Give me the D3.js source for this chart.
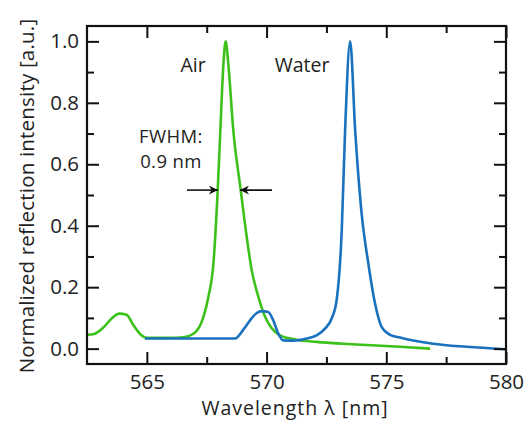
<!DOCTYPE html>
<html><head><meta charset="utf-8">
<script src="https://cdn.jsdelivr.net/npm/d3@7"></script>
<style>body{margin:0;background:#fff}text{font-family:"Open Sans",sans-serif;fill:#222}</style>
</head><body><svg id="c" width="527" height="421"></svg>
<script>
const airWavelength = [562.5,562.8,563.2,563.55,563.85,564.15,564.45,564.75,565.0,566.0,566.5,567.0,567.35,567.57,567.78,567.96,568.13,568.2,568.29,568.4,568.61,568.92,569.17,569.38,569.66,569.9,570.2,570.56,571.26,572.09,573.19,574.18,575.57,576.83];
const airIntensity  = [0.045,0.048,0.07,0.1,0.114,0.11,0.075,0.045,0.035,0.035,0.037,0.052,0.1,0.168,0.277,0.516,0.82,0.93,1.0,0.928,0.711,0.516,0.364,0.255,0.168,0.11,0.068,0.043,0.029,0.022,0.016,0.012,0.006,0.0];
const waterWavelength = [564.92,568.68,569.03,569.31,569.59,569.8,570.07,570.28,570.49,570.7,571.12,571.68,572.09,572.44,572.72,572.93,573.14,573.28,573.49,573.7,573.97,574.25,574.53,574.81,575.16,575.57,576.95,578.36,579.96];
const waterIntensity  = [0.033,0.033,0.062,0.092,0.116,0.122,0.119,0.092,0.049,0.027,0.026,0.033,0.043,0.065,0.098,0.16,0.385,0.711,1.0,0.711,0.44,0.277,0.147,0.07,0.045,0.036,0.016,0.006,-0.002];
const xMajorTicks = [565,570,575,580];
const xMinorTicks = [567.5,572.5,577.5];
const yMajorTicks = [0,0.2,0.4,0.6,0.8,1.0];
const yMinorTicks = [0.1,0.3,0.5,0.7,0.9];
const fwhmEdges = [567.97,568.89];
const fwhmLevel = 0.516;

const svg = d3.select("#c");
const L=87, R=506, T=26, B=364;
const x = d3.scaleLinear().domain([562.5,580]).range([L,R]);
const y = d3.scaleLinear().domain([-0.05,1.05]).range([B,T]);
const line = d3.line().x(d=>x(d[0])).y(d=>y(d[1])).curve(d3.curveMonotoneX);

svg.append("clipPath").attr("id","pc").append("rect").attr("x",L).attr("y",T).attr("width",R-L).attr("height",B-T);
const g = svg.append("g").attr("clip-path","url(#pc)");
g.append("path").datum(d3.zip(airWavelength,airIntensity)).attr("d",line).attr("fill","none").attr("stroke","#3cc01a").attr("stroke-width",2.6);
g.append("path").datum(d3.zip(waterWavelength,waterIntensity)).attr("d",line).attr("fill","none").attr("stroke","#1a72bf").attr("stroke-width",2.6);

function axes(){
  const fmt = d3.format(".1f");
  const bottom = svg.append("g").attr("transform",`translate(0,${B})`)
    .call(d3.axisBottom(x).tickValues(xMajorTicks).tickSizeInner(-12).tickSizeOuter(0).tickPadding(10).tickFormat(d3.format("d")));
  const bottomMinor = svg.append("g").attr("transform",`translate(0,${B})`)
    .call(d3.axisBottom(x).tickValues(xMinorTicks).tickSizeInner(-7).tickSizeOuter(0).tickFormat(""));
  const top = svg.append("g").attr("transform",`translate(0,${T})`)
    .call(d3.axisTop(x).tickValues(xMajorTicks).tickSizeInner(-12).tickSizeOuter(0).tickFormat(""));
  const topMinor = svg.append("g").attr("transform",`translate(0,${T})`)
    .call(d3.axisTop(x).tickValues(xMinorTicks).tickSizeInner(-7).tickSizeOuter(0).tickFormat(""));
  const left = svg.append("g").attr("transform",`translate(${L},0)`)
    .call(d3.axisLeft(y).tickValues(yMajorTicks).tickSizeInner(-12).tickSizeOuter(0).tickPadding(8).tickFormat(fmt));
  const leftMinor = svg.append("g").attr("transform",`translate(${L},0)`)
    .call(d3.axisLeft(y).tickValues(yMinorTicks).tickSizeInner(-7).tickSizeOuter(0).tickFormat(""));
  const right = svg.append("g").attr("transform",`translate(${R},0)`)
    .call(d3.axisRight(y).tickValues(yMajorTicks).tickSizeInner(-12).tickSizeOuter(0).tickFormat(""));
  const rightMinor = svg.append("g").attr("transform",`translate(${R},0)`)
    .call(d3.axisRight(y).tickValues(yMinorTicks).tickSizeInner(-7).tickSizeOuter(0).tickFormat(""));
  [bottom,bottomMinor,top,topMinor,left,leftMinor,right,rightMinor].forEach(a=>{
    a.select(".domain").remove();
    a.selectAll("line").attr("stroke","#111").attr("stroke-width",2);
    a.selectAll("text").attr("font-family","Open Sans, sans-serif").attr("font-size",20.5).attr("fill","#222");
  });
  svg.append("rect").attr("x",L).attr("y",T).attr("width",R-L).attr("height",B-T)
    .attr("fill","none").attr("stroke","#111").attr("stroke-width",2.2);
}
axes();

svg.append("text").attr("x",295).attr("y",414.5).attr("text-anchor","middle").attr("font-size",19.5).attr("letter-spacing",1.0).text("Wavelength λ [nm]");
svg.append("text").attr("transform",`translate(34,${196}) rotate(-90)`).attr("text-anchor","middle").attr("font-size",20.5).attr("letter-spacing",0.2).text("Normalized reflection intensity [a.u.]");

svg.append("text").attr("x",193).attr("y",72).attr("text-anchor","middle").attr("font-size",19.5).text("Air");
svg.append("text").attr("x",302).attr("y",72).attr("text-anchor","middle").attr("font-size",19.5).text("Water");
svg.append("text").attr("x",171).attr("y",143).attr("text-anchor","middle").attr("font-size",18.5).attr("letter-spacing",0.4).text("FWHM:");
svg.append("text").attr("x",171).attr("y",168).attr("text-anchor","middle").attr("font-size",18.5).attr("letter-spacing",0.4).text("0.9 nm");

const defs = svg.append("defs");
defs.append("marker").attr("id","ah").attr("viewBox","0 0 10 10").attr("refX",10).attr("refY",5)
  .attr("markerWidth",11).attr("markerHeight",9).attr("markerUnits","userSpaceOnUse").attr("orient","auto")
  .append("path").attr("d","M0,0L10,5L0,10L3,5Z").attr("fill","#111");
const ay = y(fwhmLevel);
svg.append("line").attr("x1",x(fwhmEdges[0])-31).attr("x2",x(fwhmEdges[0])).attr("y1",ay).attr("y2",ay)
  .attr("stroke","#111").attr("stroke-width",1.6).attr("marker-end","url(#ah)");
svg.append("line").attr("x1",x(fwhmEdges[1])+32).attr("x2",x(fwhmEdges[1])).attr("y1",ay).attr("y2",ay)
  .attr("stroke","#111").attr("stroke-width",1.6).attr("marker-end","url(#ah)");
</script></body></html>
